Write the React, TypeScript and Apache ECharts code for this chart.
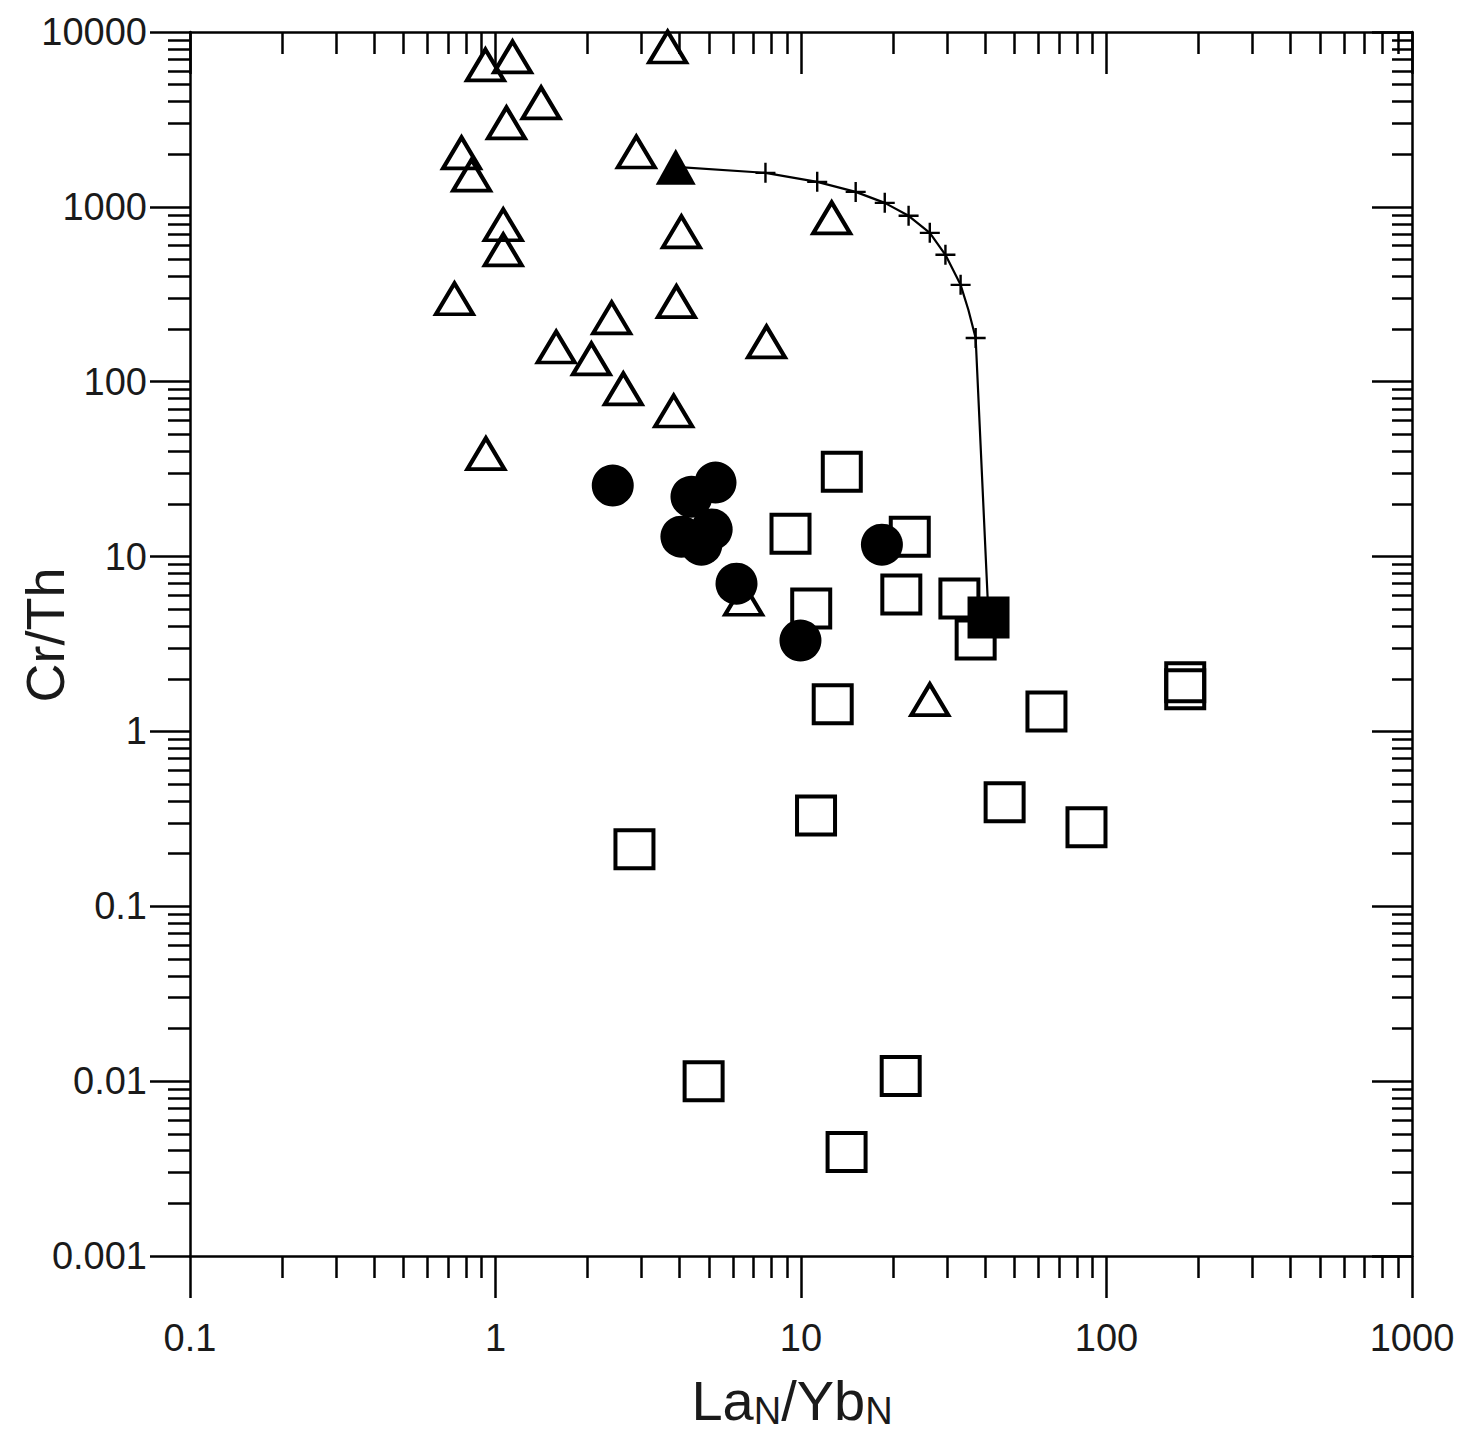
import React, { useEffect, useRef } from "react";
import * as echarts from "echarts";

// ---- tick values / labels ----
const xMajor = [0.1, 1, 10, 100, 1000];
const xMajorLabels = ["0.1", "1", "10", "100", "1000"];
const yMajor = [0.001, 0.01, 0.1, 1, 10, 100, 1000, 10000];
const yMajorLabels = ["0.001", "0.01", "0.1", "1", "10", "100", "1000", "10000"];

function minorsBetween(lo: number, hi: number): number[] {
  const out: number[] = [];
  for (let d = lo; d < hi * 0.999; d *= 10) {
    for (let k = 2; k <= 9; k++) out.push(+(k * d).toPrecision(6));
  }
  return out;
}
const xMinor = minorsBetween(0.1, 1000);
const yMinor = minorsBetween(0.001, 10000);

// ---- data ----
const triX = [0.927, 1.137, 3.66, 1.41, 1.086, 0.774, 0.835, 2.89, 1.06, 1.06, 4.06, 0.734, 2.4, 3.91, 1.58, 2.06, 2.62, 3.83, 7.71, 12.6, 0.93, 6.49, 26.4];
const triY = [6480, 7200, 8210, 3930, 3020, 2035, 1520, 2060, 790, 568, 720, 298, 232, 287, 158, 135, 91, 68, 169, 865, 38.8, 5.7, 1.52];

const sqX = [13.6, 9.24, 10.8, 22.7, 21.3, 33.0, 37.3, 12.7, 63.6, 181, 181, 46.4, 86, 11.2, 2.85, 4.8, 21.2, 14.1];
const sqY = [30.6, 13.5, 5.05, 13, 6.07, 5.75, 3.35, 1.43, 1.3, 1.91, 1.74, 0.393, 0.283, 0.331, 0.212, 0.01, 0.0107, 0.00393];

const circX = [2.42, 4.38, 5.25, 4.06, 5.1, 4.72, 6.15, 9.96, 18.4];
const circY = [25.5, 22, 26.5, 13, 14.3, 11.7, 7.0, 3.31, 11.7];

const endTriX = [3.89];
const endTriY = [1693];
const endSqX = [41.1];
const endSqY = [4.48];

const curveX = [3.89, 7.65, 11.3, 15.1, 18.8, 22.5, 26.4, 29.7, 33.3, 35.3, 37.3, 41.1];
const curveY = [1693, 1565, 1390, 1218, 1054, 889, 710, 532, 358, 258, 178, 4.48];

const crossX = [7.65, 11.3, 15.1, 18.8, 22.5, 26.4, 29.7, 33.3, 37.3];
const crossY = [1565, 1390, 1218, 1054, 889, 710, 532, 358, 178];

const zip = (a: number[], b: number[]) => a.map((v, i) => [v, b[i]]);

const FONT = "Liberation Sans";
const INK = "#000";
const TXT = "#1a1a1a";

function fmt(majors: number[], labels: string[]) {
  return (v: number) => {
    const i = majors.findIndex((m) => Math.abs(Math.log10(m) - Math.log10(v)) < 1e-6);
    return i >= 0 ? labels[i] : "";
  };
}

function makeAxis(opts: {
  kind: "x" | "y";
  position: string;
  ticks: number[];
  len: number;
  inside: boolean;
  line: boolean;
  labels?: { values: number[]; labels: string[]; margin: number };
  name?: any;
}) {
  const isX = opts.kind === "x";
  const ax: any = {
    type: "log",
    logBase: 10,
    min: isX ? 0.1 : 0.001,
    max: isX ? 1000 : 10000,
    position: opts.position,
    nameMoveOverlap: false,
    axisLine: { show: opts.line, lineStyle: { color: INK, width: 2.5 } },
    axisTick: {
      show: true,
      inside: opts.inside,
      length: opts.len,
      customValues: opts.ticks,
      lineStyle: { color: INK, width: 2.5 },
    },
    minorTick: { show: false },
    splitLine: { show: false },
    minorSplitLine: { show: false },
    axisLabel: opts.labels
      ? {
          show: true,
          customValues: opts.labels.values,
          formatter: fmt(opts.labels.values, opts.labels.labels),
          margin: opts.labels.margin,
          fontSize: 38,
          fontFamily: FONT,
          color: TXT,
        }
      : { show: false },
  };
  if (opts.name) Object.assign(ax, opts.name);
  return ax;
}

export default function App() {
  const ref = useRef<HTMLDivElement>(null);
  useEffect(() => {
    document.body.style.margin = "0";
    document.body.style.overflow = "hidden";
    if (!ref.current) return;
    const chart = echarts.init(ref.current, null, { renderer: "svg" });
    const option: any = {
      animation: false,
      backgroundColor: "#fff",
      grid: { left: 190, top: 32, right: 59, bottom: 184, containLabel: false, outerBoundsMode: "none" },
      xAxis: [
        makeAxis({
          kind: "x",
          position: "bottom",
          ticks: xMajor,
          len: 42,
          inside: false,
          line: true,
          labels: { values: xMajor, labels: xMajorLabels, margin: 63 },
          name: {
            name: "{a|La}{s|N}{a|/Yb}{s|N}",
            nameLocation: "middle",
            nameGap: 114,
            nameTextStyle: {
              fontFamily: FONT,
              color: TXT,
              fontSize: 56,
              padding: [0, 18, 0, 0],
              rich: {
                a: { fontFamily: FONT, color: TXT, fontSize: 56, lineHeight: 60 },
                s: { fontFamily: FONT, color: TXT, fontSize: 38, lineHeight: 26, verticalAlign: "bottom" },
              },
            },
          },
        }),
        makeAxis({ kind: "x", position: "bottom", ticks: xMinor, len: 22, inside: false, line: false }),
        makeAxis({ kind: "x", position: "top", ticks: xMajor, len: 42, inside: true, line: true }),
        makeAxis({ kind: "x", position: "top", ticks: xMinor, len: 22, inside: true, line: false }),
      ],
      yAxis: [
        makeAxis({
          kind: "y",
          position: "left",
          ticks: yMajor,
          len: 40,
          inside: false,
          line: true,
          labels: { values: yMajor, labels: yMajorLabels, margin: 43 },
          name: {
            name: "Cr/Th",
            nameLocation: "middle",
            nameGap: 118,
            nameTextStyle: { fontFamily: FONT, color: TXT, fontSize: 54, padding: [0, 0, 0, 18] },
          },
        }),
        makeAxis({ kind: "y", position: "left", ticks: yMinor, len: 22, inside: false, line: false }),
        makeAxis({ kind: "y", position: "right", ticks: yMajor, len: 40, inside: true, line: true }),
        makeAxis({ kind: "y", position: "right", ticks: yMinor, len: 20, inside: true, line: false }),
      ],
      series: [
        {
          type: "scatter",
          name: "open triangles",
          data: zip(triX, triY),
          symbol: "triangle",
          symbolSize: [37, 31],
          itemStyle: { color: "rgba(0,0,0,0)", borderColor: INK, borderWidth: 4, opacity: 1 },
          z: 2,
        },
        {
          type: "scatter",
          name: "open squares",
          data: zip(sqX, sqY),
          symbol: "rect",
          symbolSize: 38,
          itemStyle: { color: "rgba(0,0,0,0)", borderColor: INK, borderWidth: 4, opacity: 1 },
          z: 2,
        },
        {
          type: "scatter",
          name: "circles",
          data: zip(circX, circY),
          symbol: "circle",
          symbolSize: 42,
          itemStyle: { color: INK, opacity: 1 },
          z: 3,
        },
        {
          type: "line",
          name: "mixing curve",
          data: zip(curveX, curveY),
          showSymbol: false,
          symbol: "none",
          lineStyle: { color: INK, width: 2.2 },
          z: 4,
        },
        {
          type: "scatter",
          name: "curve ticks",
          data: zip(crossX, crossY),
          symbol: "path://M-1.2,-10L1.2,-10L1.2,10L-1.2,10Z M-10,-1.2L10,-1.2L10,1.2L-10,1.2Z",
          symbolSize: 20,
          itemStyle: { color: INK, opacity: 1 },
          z: 4,
        },
        {
          type: "scatter",
          name: "end triangle",
          data: zip(endTriX, endTriY),
          symbol: "triangle",
          symbolSize: [40, 36],
          itemStyle: { color: INK, opacity: 1 },
          z: 5,
        },
        {
          type: "scatter",
          name: "end square",
          data: zip(endSqX, endSqY),
          symbol: "rect",
          symbolSize: 42,
          itemStyle: { color: INK, opacity: 1 },
          z: 5,
        },
      ],
    };
    chart.setOption(option);
    return () => chart.dispose();
  }, []);
  return <div ref={ref} style={{ width: 1471, height: 1440 }} />;
}
